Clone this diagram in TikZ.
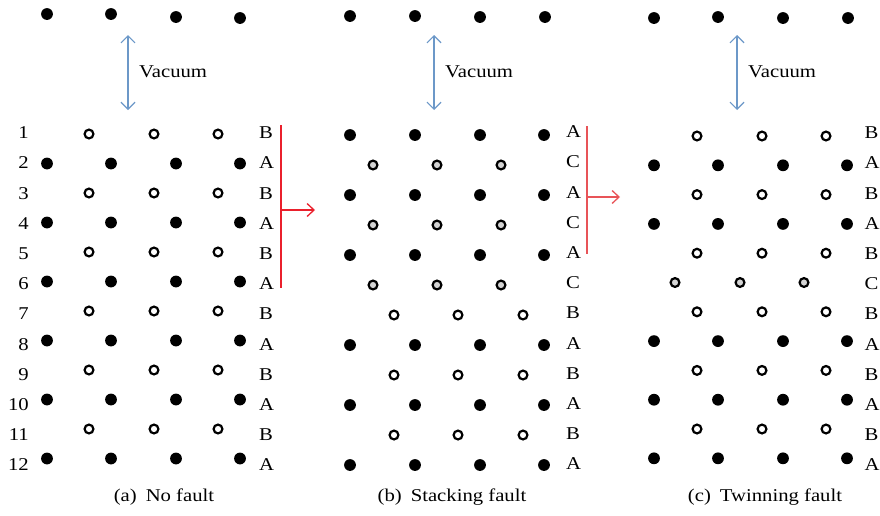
\documentclass[tikz,border=0pt]{standalone}
\usepackage{fontspec}
\setmainfont{Liberation Serif}[FakeStretch=1.15]
\usetikzlibrary{arrows.meta}

\definecolor{vacblue}{RGB}{108,152,200}
\definecolor{faultred}{RGB}{234,32,44}
\definecolor{faultpink}{RGB}{232,84,88}
\definecolor{cfill}{RGB}{212,212,212}

\tikzset{
  atomA/.style={circle, fill=black, inner sep=0pt, minimum size=11.8pt},
  atomB/.style={circle, draw=black, line width=2.2pt, fill=white, inner sep=0pt, minimum size=8.8pt},
  atomC/.style={atomB, fill=cfill},
  txt/.style={font=\fontsize{18}{20}\selectfont, inner sep=0pt},
  layer/.style={txt, anchor=base west},
  index/.style={txt, anchor=base east},
  vacarrow/.style={draw=vacblue, line width=1.2pt,
    {Straight Barb[length=7pt,width=14pt]}-{Straight Barb[length=7pt,width=14pt]}},
  bracket/.style={line width=1.3pt},
  faultarrow/.style={line width=1.3pt, -{Straight Barb[length=7pt,width=13pt]}},
}

\begin{document}
\begin{tikzpicture}[x=1pt, y=-1pt]
\useasboundingbox (0,0) rectangle (880,515);

% ---------- (a) no fault ----------
\node[atomA] (a0-1) at (47,14) {};
\node[atomA] (a0-2) at (111,14) {};
\node[atomA] (a0-3) at (176,17) {};
\node[atomA] (a0-4) at (240,18) {};
\coordinate (av1) at (128,35);
\coordinate (av2) at (128,110);
\draw[vacarrow] (av1) -- (av2);
\node[txt, anchor=base west] (avac) at (139,77) {Vacuum};

\foreach \i [evaluate=\i as \y using 134+29.5*(\i-1),
             evaluate=\i as \t using 138.6+30.2*(\i-1)] in {1,...,12} {
  \node[index] (an-\i) at (29,\t) {\i};
  \ifodd\i
    \foreach \x [count=\k] in {89,154,218}
      \node[atomB] (a\i-\k) at (\x,\y) {};
    \node[layer] (al-\i) at (259,\t) {B};
  \else
    \foreach \x [count=\k] in {47,111,176,240}
      \node[atomA] (a\i-\k) at (\x,\y) {};
    \node[layer] (al-\i) at (259,\t) {A};
  \fi
}

\coordinate (ar1) at (281,125);
\coordinate (ar2) at (281,288);
\coordinate (arm) at (281,210);
\coordinate (art) at (315,210);
\draw[bracket, faultred] (ar1) -- (ar2);
\draw[faultarrow, faultred] (arm) -- (art);

\node[txt, anchor=base] (acap) at (164,501) {(a)\enspace No fault};

% ---------- (b) stacking fault ----------
\node[atomA] (b0-1) at (350,16) {};
\node[atomA] (b0-2) at (415,16) {};
\node[atomA] (b0-3) at (480,17) {};
\node[atomA] (b0-4) at (545,17) {};
\coordinate (bv1) at (434,35);
\coordinate (bv2) at (434,110);
\draw[vacarrow] (bv1) -- (bv2);
\node[txt, anchor=base west] (bvac) at (445,77) {Vacuum};

\foreach \s [count=\i, evaluate=\i as \y using 135+30*(\i-1),
             evaluate=\i as \t using 137.6+30.2*(\i-1)] in {A,C,A,C,A,C,B,A,B,A,B,A} {
  \if A\s
    \foreach \x [count=\k] in {350,415,480,544}
      \node[atomA] (b\i-\k) at (\x,\y) {};
  \else\if C\s
    \foreach \x [count=\k] in {373,437,501}
      \node[atomC] (b\i-\k) at (\x,\y) {};
  \else
    \foreach \x [count=\k] in {394,458,523}
      \node[atomB] (b\i-\k) at (\x,\y) {};
  \fi\fi
  \node[layer] (bl-\i) at (566,\t) {\s};
}

\coordinate (br1) at (587,126);
\coordinate (br2) at (587,254);
\coordinate (brm) at (587,197);
\coordinate (brt) at (620,197);
\draw[bracket, faultpink] (br1) -- (br2);
\draw[faultarrow, faultpink] (brm) -- (brt);

\node[txt, anchor=base] (bcap) at (452,501) {(b)\enspace Stacking fault};

% ---------- (c) twinning fault ----------
\node[atomA] (c0-1) at (654,18) {};
\node[atomA] (c0-2) at (718,17) {};
\node[atomA] (c0-3) at (783,18) {};
\node[atomA] (c0-4) at (848,18) {};
\coordinate (cv1) at (737,35);
\coordinate (cv2) at (737,110);
\draw[vacarrow] (cv1) -- (cv2);
\node[txt, anchor=base west] (cvac) at (748,77) {Vacuum};

\foreach \s [count=\i, evaluate=\i as \y using 136+29.3*(\i-1),
             evaluate=\i as \t using 138.6+30.2*(\i-1)] in {B,A,B,A,B,C,B,A,B,A,B,A} {
  \if A\s
    \foreach \x [count=\k] in {654,718,783,847}
      \node[atomA] (c\i-\k) at (\x,\y) {};
  \else\if C\s
    \foreach \x [count=\k] in {675,740,804}
      \node[atomC] (c\i-\k) at (\x,\y) {};
  \else
    \foreach \x [count=\k] in {697,762,826}
      \node[atomB] (c\i-\k) at (\x,\y) {};
  \fi\fi
  \node[layer] (cl-\i) at (864.5,\t) {\s};
}

\node[txt, anchor=base] (ccap) at (765,501) {(c)\enspace Twinning fault};
\end{tikzpicture}
\end{document}
